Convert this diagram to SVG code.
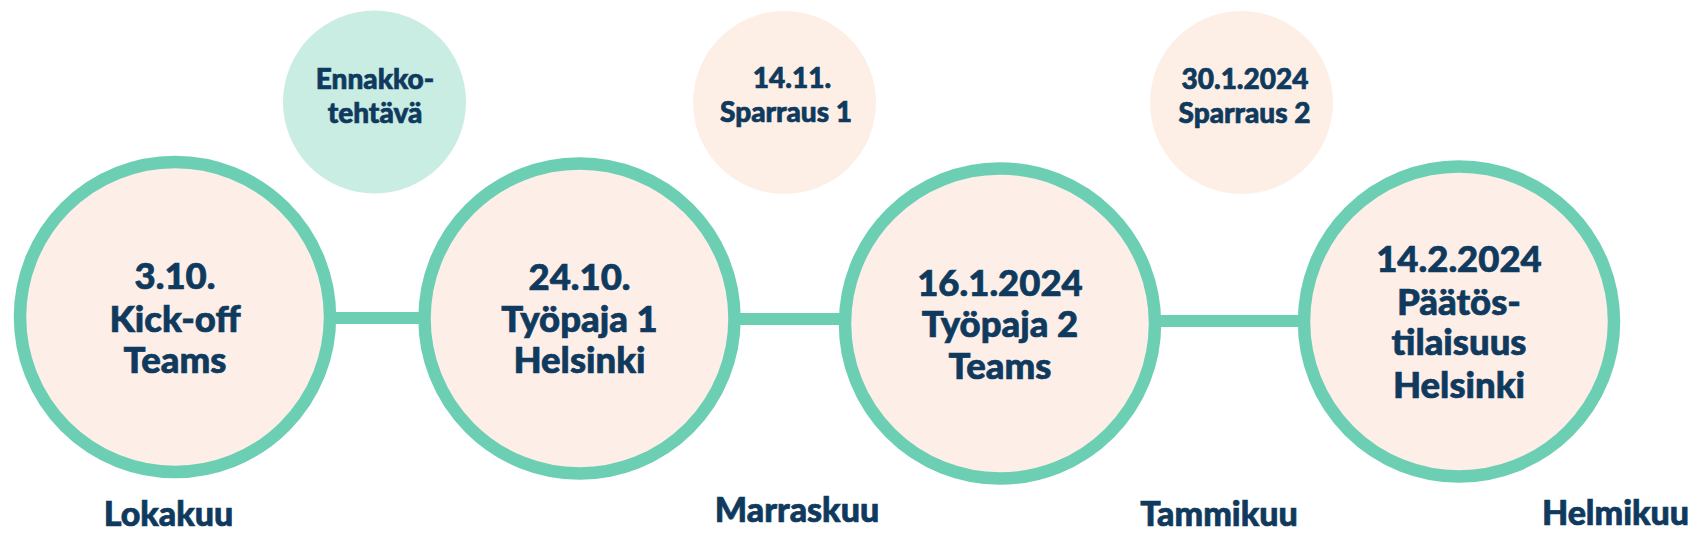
<svg xmlns="http://www.w3.org/2000/svg" width="1705" height="554" viewBox="0 0 1705 554">
  <style>
    .ring { fill: #fdefe8; stroke: #6ccfb4; stroke-width: 12.5; }
    .bub { fill: #fdefe5; }
    .bubt { fill: #c9ece3; }
    .conn { stroke: #6ccfb4; stroke-width: 12; fill: none; }
    text { font-family: "Lato", "Liberation Sans", sans-serif; font-weight: 900; fill: #0f3a5e; stroke: #0f3a5e; stroke-width: 0.7; text-anchor: middle; }
    .big { font-size: 36.5px; }
    .small { font-size: 28px; }
    .month { font-size: 34px; }
  </style>
  <rect width="1705" height="554" fill="#ffffff"/>
  <g id="connectors">
    <line class="conn" x1="330" y1="318" x2="424" y2="318"/>
    <line class="conn" x1="735" y1="319" x2="845" y2="319"/>
    <line class="conn" x1="1155" y1="321" x2="1304" y2="321"/>
  </g>
  <g id="node-ennakko">
    <circle class="bubt" cx="374.5" cy="102" r="91.5"/>
    <text class="small" x="375" y="89">Ennakko-</text>
    <text class="small" x="375" y="123">tehtävä</text>
  </g>
  <g id="node-sparraus1">
    <circle class="bub" cx="784.5" cy="102.5" r="91.5"/>
    <text class="small" x="792" y="88">14.11.</text>
    <text class="small" x="786" y="122">Sparraus 1</text>
  </g>
  <g id="node-sparraus2">
    <circle class="bub" cx="1241.5" cy="102.5" r="91.5"/>
    <text class="small" x="1245" y="89">30.1.2024</text>
    <text class="small" x="1244.5" y="123">Sparraus 2</text>
  </g>
  <g id="node-kickoff">
    <circle class="ring" cx="175" cy="317" r="155"/>
    <text class="big" x="175" y="289">3.10.</text>
    <text class="big" x="175" y="332">Kick-off</text>
    <text class="big" x="175" y="373">Teams</text>
  </g>
  <g id="node-tyopaja1">
    <circle class="ring" cx="579.5" cy="318.5" r="155"/>
    <text class="big" x="579.5" y="290">24.10.</text>
    <text class="big" x="579.5" y="332">Työpaja 1</text>
    <text class="big" x="579.5" y="373">Helsinki</text>
  </g>
  <g id="node-tyopaja2">
    <circle class="ring" cx="1000" cy="323.5" r="155"/>
    <text class="big" x="1000" y="296">16.1.2024</text>
    <text class="big" x="1000" y="337">Työpaja 2</text>
    <text class="big" x="1000" y="379">Teams</text>
  </g>
  <g id="node-paatos">
    <circle class="ring" cx="1459" cy="321.5" r="155"/>
    <text class="big" x="1459" y="272">14.2.2024</text>
    <text class="big" x="1459" y="315">Päätös-</text>
    <text class="big" x="1459" y="355">tilaisuus</text>
    <text class="big" x="1459" y="398">Helsinki</text>
  </g>
  <g id="months">
    <text class="month" x="168.5" y="526">Lokakuu</text>
    <text class="month" x="797" y="522">Marraskuu</text>
    <text class="month" x="1219" y="526">Tammikuu</text>
    <text class="month" x="1615.5" y="525">Helmikuu</text>
  </g>
</svg>
